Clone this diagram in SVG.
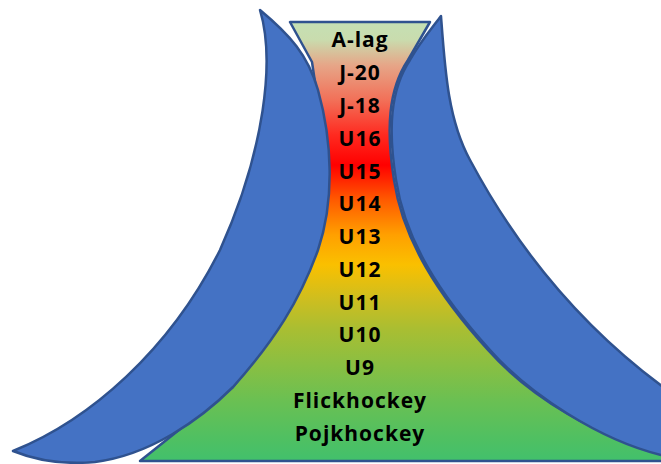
<svg xmlns="http://www.w3.org/2000/svg" width="661" height="464" viewBox="0 0 661 464">
<defs>
<linearGradient id="grad" gradientUnits="userSpaceOnUse" x1="0" y1="22" x2="0" y2="461">
<stop offset="0" stop-color="#C5E0B4"/>
<stop offset="0.04" stop-color="#C9DCAE"/>
<stop offset="0.098" stop-color="#E6A688"/>
<stop offset="0.178" stop-color="#F27058"/>
<stop offset="0.257" stop-color="#FF2A20"/>
<stop offset="0.326" stop-color="#FF0000"/>
<stop offset="0.405" stop-color="#FF5A00"/>
<stop offset="0.485" stop-color="#FFA000"/>
<stop offset="0.553" stop-color="#FAC000"/>
<stop offset="0.633" stop-color="#CDBE20"/>
<stop offset="0.70" stop-color="#A9BE32"/>
<stop offset="0.78" stop-color="#8ABF42"/>
<stop offset="0.86" stop-color="#6BC052"/>
<stop offset="0.95" stop-color="#4FC062"/>
<stop offset="1" stop-color="#42C06C"/>
</linearGradient>
<style>
.moon{fill:#4472C4;stroke:#2F528F;stroke-width:2.5;stroke-linejoin:round}
.funnel{fill:url(#grad);stroke:#2F528F;stroke-width:2.5;stroke-linejoin:round}
.lbl{font-family:"Open Sans","Liberation Sans",sans-serif;font-weight:700;font-size:21px;letter-spacing:1px;fill:#000;text-anchor:middle}
</style>
</defs>
<g id="funnel">
<path class="funnel" d="M 290,22 L 430,22 L 408,60 C 388,90 386,130 394,180 C 403,240 438,295 488,350 C 528,395 598,440 670,453 L 670,461 L 140,461 L 233,387 C 265,350 295,290 308,240 C 320,190 322,120 312,62 Z"/>
</g>
<g id="moon-left">
<path class="moon" d="M 260,10 C 275,60 265,150 220,250 C 170,350 90,420 13,451 Q 50,466 95,462 C 150,455 200,420 233,387 C 275,340 300,300 318,250 C 335,200 332,140 318,90 C 308,55 290,35 260,10 Z"/>
</g>
<g id="moon-right">
<path class="moon" d="M 441,16 C 445,70 448,120 470,160 C 510,235 570,320 670,392 L 670,457 L 661,455 C 600,440 530,395 490,350 C 440,295 405,240 396,180 C 388,130 390,90 410,60 C 420,42 432,28 441,16 Z"/>
</g>
<g id="labels">
<text class="lbl" x="360" y="47">A-lag</text>
<text class="lbl" x="360" y="80">J-20</text>
<text class="lbl" x="360" y="113">J-18</text>
<text class="lbl" x="360" y="146">U16</text>
<text class="lbl" x="360" y="179">U15</text>
<text class="lbl" x="360" y="211">U14</text>
<text class="lbl" x="360" y="244">U13</text>
<text class="lbl" x="360" y="277">U12</text>
<text class="lbl" x="360" y="310">U11</text>
<text class="lbl" x="360" y="342">U10</text>
<text class="lbl" x="360" y="375">U9</text>
<text class="lbl" x="360" y="408">Flickhockey</text>
<text class="lbl" x="360" y="441">Pojkhockey</text>
</g>
</svg>
